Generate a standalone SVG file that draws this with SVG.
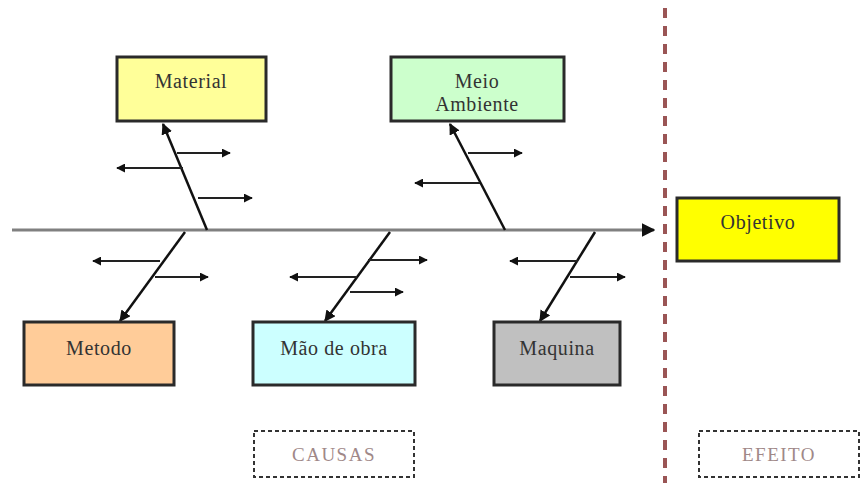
<svg xmlns="http://www.w3.org/2000/svg" width="861" height="483" viewBox="0 0 861 483">
<style>
.box{stroke:#2a2a2a;stroke-width:3}
.t{font-family:"Liberation Serif","Times New Roman",serif;font-size:20px;fill:#333;text-anchor:middle;letter-spacing:0.6px}
.lab{font-family:"Liberation Serif","Times New Roman",serif;font-size:19px;fill:#a08888;text-anchor:middle;letter-spacing:1.5px}
.bone{stroke:#111;stroke-width:2.5;fill:none;marker-end:url(#ah)}
.sub{stroke:#222;stroke-width:2;fill:none;marker-end:url(#ah)}
.dbox{fill:#fff;stroke:#333;stroke-width:2;stroke-dasharray:4 3}
</style>
<defs>
<marker id="ah" viewBox="0 0 10 10" refX="9" refY="5" markerWidth="4.5" markerHeight="4.5" orient="auto" markerUnits="strokeWidth">
<path d="M0,0 L10,5 L0,10 z" fill="#111"/>
</marker>
</defs>
<rect width="861" height="483" fill="#fff"/>
<line x1="665" y1="8" x2="665" y2="483" stroke="#9a5555" stroke-width="4" stroke-dasharray="10 8"/>
<g id="connectors">
<line x1="12" y1="230" x2="654" y2="230" stroke="#808080" stroke-width="3" marker-end="url(#ah)"/>
<line class="bone" x1="207" y1="230" x2="163" y2="124"/>
<line class="sub" x1="177" y1="153" x2="230" y2="153"/>
<line class="sub" x1="183" y1="168" x2="117" y2="168"/>
<line class="sub" x1="198" y1="198" x2="252" y2="198"/>
<line class="bone" x1="505" y1="230" x2="450" y2="124"/>
<line class="sub" x1="468" y1="153" x2="522" y2="153"/>
<line class="sub" x1="480" y1="183" x2="415" y2="183"/>
<line class="bone" x1="185" y1="232" x2="120" y2="321"/>
<line class="sub" x1="160" y1="261" x2="93" y2="261"/>
<line class="sub" x1="155" y1="277" x2="208" y2="277"/>
<line class="bone" x1="390" y1="232" x2="325" y2="321"/>
<line class="sub" x1="368" y1="260" x2="427" y2="260"/>
<line class="sub" x1="357" y1="277" x2="290" y2="277"/>
<line class="sub" x1="350" y1="292" x2="403" y2="292"/>
<line class="bone" x1="595" y1="232" x2="540" y2="321"/>
<line class="sub" x1="578" y1="261" x2="510" y2="261"/>
<line class="sub" x1="570" y1="277" x2="625" y2="277"/>
</g>
<g id="material"><rect class="box" x="117" y="57" width="149" height="64" fill="#ffff99"/><text class="t" x="191" y="88">Material</text></g>
<g id="meio"><rect class="box" x="391" y="57" width="173" height="64" fill="#ccffcc"/><text class="t" x="477" y="88">Meio</text><text class="t" x="477" y="111">Ambiente</text></g>
<g id="objetivo"><rect class="box" x="677" y="198" width="162" height="63" fill="#ffff00"/><text class="t" x="758" y="229">Objetivo</text></g>
<g id="metodo"><rect class="box" x="24" y="322" width="150" height="63" fill="#ffcc99"/><text class="t" x="99" y="355">Metodo</text></g>
<g id="maodeobra"><rect class="box" x="253" y="322" width="162" height="63" fill="#ccffff"/><text class="t" x="334" y="355">Mão de obra</text></g>
<g id="maquina"><rect class="box" x="494" y="322" width="126" height="63" fill="#c0c0c0"/><text class="t" x="557" y="355">Maquina</text></g>
<g id="causas"><rect class="dbox" x="254" y="431" width="160" height="46"/><text class="lab" x="334" y="461">CAUSAS</text></g>
<g id="efeito"><rect class="dbox" x="699" y="431" width="160" height="46"/><text class="lab" x="779" y="461">EFEITO</text></g>
</svg>
